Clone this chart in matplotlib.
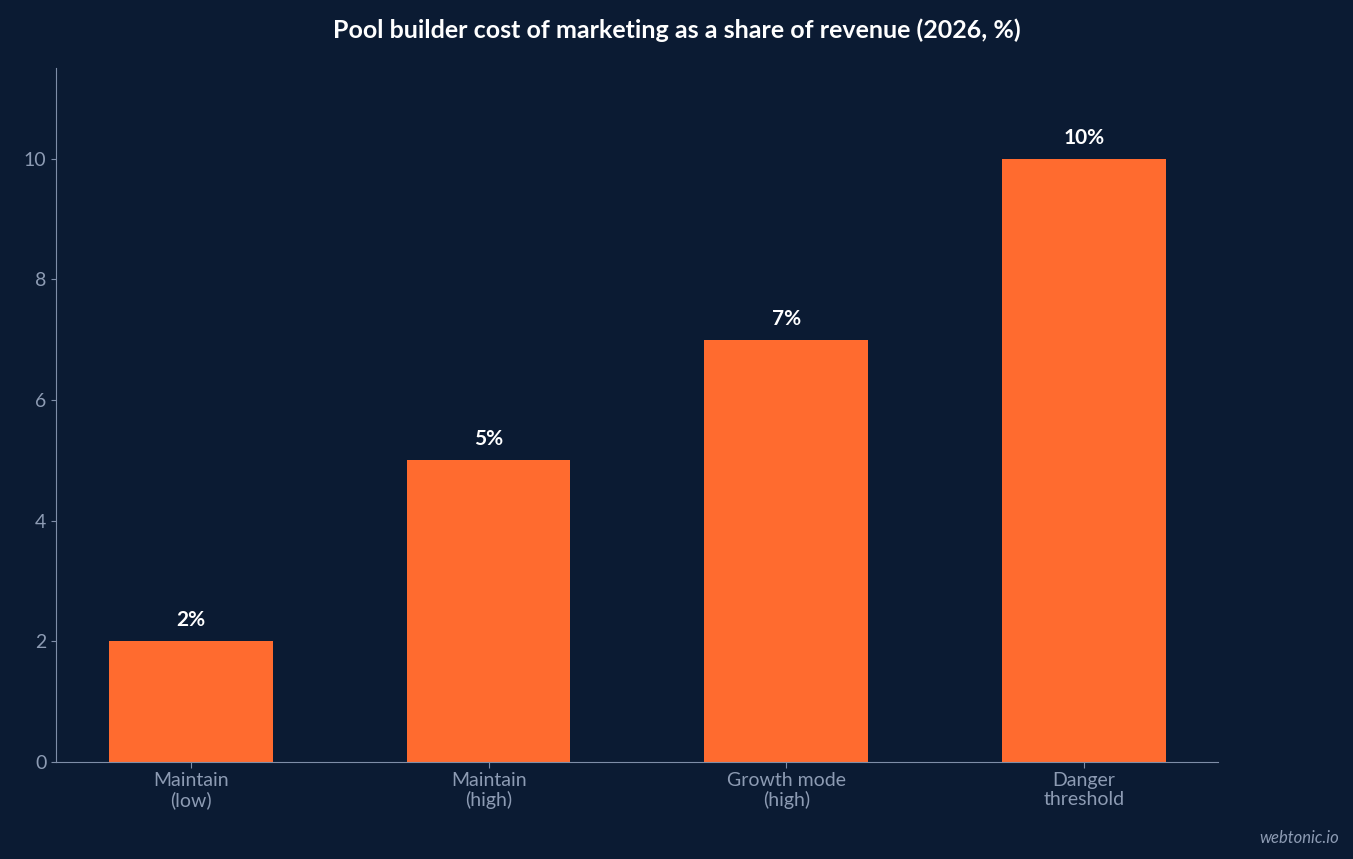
import matplotlib
matplotlib.use("Agg")
import matplotlib.pyplot as plt

categories = ["Maintain\n(low)", "Maintain\n(high)", "Growth mode\n(high)", "Danger\nthreshold"]
values = [2, 5, 7, 10]
labels = ["2%", "5%", "7%", "10%"]

bg = "#0b1b33"
plt.rcParams["font.family"] = ["Lato", "DejaVu Sans"]

fig = plt.figure(figsize=(13.53, 8.59), dpi=100, facecolor=bg)
ax = fig.add_axes([0.0414, 0.1129, 0.8588, 0.8079], facecolor=bg)

x = range(len(values))
ax.bar(x, values, width=0.55, color="#ff6b2f")
for xi, v, lab in zip(x, values, labels):
    ax.text(xi, v + 0.18, lab, ha="center", va="bottom", color="white",
            fontsize=15, fontweight="bold")

ax.set_xlim(-0.453, 3.45)
ax.set_ylim(0, 11.5)
ax.set_xticks(list(x))
ax.set_xticklabels(categories, fontsize=14, color="#8d9bb3", linespacing=1.1)
ax.set_yticks([0, 2, 4, 6, 8, 10])
ax.tick_params(axis="y", labelsize=14, labelcolor="#8d9bb3", color="#7f8ea8")
ax.tick_params(axis="x", color="#7f8ea8", length=4)
for s in ["top", "right"]:
    ax.spines[s].set_visible(False)
for s in ["left", "bottom"]:
    ax.spines[s].set_color("#7f8ea8")

fig.text(0.5, 0.965, "Pool builder cost of marketing as a share of revenue (2026, %)",
         ha="center", va="center", color="white", fontsize=18, fontweight="bold")
fig.text(0.99, 0.025, "webtonic.io", ha="right", va="center", color="#8d9bb3",
         fontsize=12, style="italic")

fig.savefig("out.png", dpi=100, facecolor=bg)
